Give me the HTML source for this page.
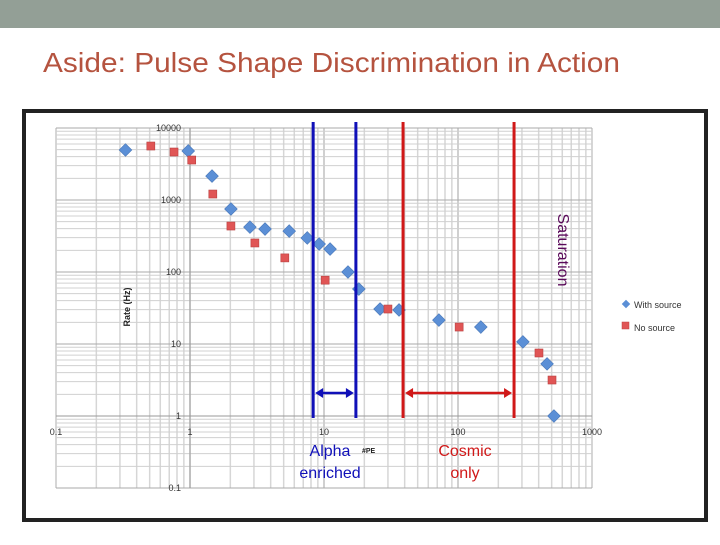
<!DOCTYPE html>
<html><head><meta charset="utf-8"><style>
body{margin:0;width:720px;height:540px;background:#fff;overflow:hidden;font-family:"Liberation Sans",sans-serif;}
</style></head><body>
<svg width="720" height="540" xmlns="http://www.w3.org/2000/svg">
<rect x="0" y="0" width="720" height="28" fill="#939f96"/>
<text x="43" y="72" font-size="28" fill="#b5533f" textLength="577" lengthAdjust="spacingAndGlyphs" font-family="Liberation Sans, sans-serif">Aside: Pulse Shape Discrimination in Action</text>
<rect x="24" y="111" width="682" height="409" fill="#fff" stroke="#222" stroke-width="4"/>
<g id="grid"></g>
<g id="axes"></g>
<g id="marks"></g>
<g id="ann"></g>
<text x="130" y="307" font-size="9" font-weight="bold" fill="#222" text-anchor="middle" transform="rotate(-90 130 307)">Rate (Hz)</text>
<text x="362" y="453" font-size="7" font-weight="bold" fill="#222">#PE</text>
<g>
<g><rect x="623" y="301" width="6" height="6" fill="#5b8fd6" transform="rotate(45 626 304)"/><text x="634" y="308" font-size="9" fill="#333">With source</text></g>
<g><rect x="622" y="322" width="7" height="7" fill="#e05555" stroke="#c04040" stroke-width="0.5"/><text x="634" y="331" font-size="9" fill="#333">No source</text></g>
</g>
</svg>
<script>
const NS='http://www.w3.org/2000/svg';
const withX=[0.33,0.97,1.46,2.02,2.8,3.63,5.5,7.5,9.2,11.1,15.1,18.2,26.2,36.3,72,148,305,462,520];
const withY=[4950,4800,2150,750,420,395,370,297,245,208,100,58,30.6,29.7,21.5,17.2,10.7,5.3,1.0];
const noX=[0.51,0.76,1.03,1.48,2.02,3.05,5.1,10.2,30,102,402,503];
const noY=[5620,4640,3590,1210,435,253,157,77,30.6,17.2,7.5,3.16];
const xTicks=[0.1,1,10,100,1000];
const xTickLabels=['0.1','1','10','100','1000'];
const yTicks=[10000,1000,100,10,1,0.1];
const yTickLabels=['10000','1000','100','10','1','0.1'];
const alphaRange=[8.3,17.3];
const cosmicRange=[38.9,262];
function X(v){return 190+134*Math.log10(v);}
function Y(v){return 416-72*Math.log10(v);}
function mk(t,a,p){const e=document.createElementNS(NS,t);for(const k in a)e.setAttribute(k,a[k]);p.appendChild(e);return e;}
const grid=document.getElementById('grid'),axes=document.getElementById('axes'),marks=document.getElementById('marks'),ann=document.getElementById('ann');
for(let d=-1;d<3;d++)for(let m=1;m<=10;m++){const v=m*Math.pow(10,d);const x=X(v);
 const l=mk('line',{x1:x,y1:Y(10000),x2:x,y2:Y(0.1),stroke:m==1||m==10?'#bbb':'#d6d6d6','stroke-width':m==1||m==10?1.2:1.5},grid);
 
 }
for(let d=-1;d<4;d++)for(let m=1;m<=10;m++){const v=m*Math.pow(10,d);const y=Y(v);
 const l=mk('line',{x1:X(0.1),y1:y,x2:X(1000),y2:y,stroke:m==1||m==10?'#aaa':'#d0d0d0','stroke-width':1},grid);
 
 }
const ya=mk('line',{x1:X(1),y1:Y(10000),x2:X(1),y2:Y(0.1),stroke:'#999','stroke-width':1},axes);


const xa=mk('line',{x1:X(0.1),y1:Y(1),x2:X(1000),y2:Y(1),stroke:'#999','stroke-width':1},axes);


xTicks.forEach((v,i)=>{const t=mk('text',{x:X(v),y:435,'font-size':9,fill:'#333','text-anchor':'middle'},axes);t.textContent=xTickLabels[i];
 
 });
yTicks.forEach((v,i)=>{const t=mk('text',{x:181,y:Y(v)+3,'font-size':9,fill:'#333','text-anchor':'end'},axes);t.textContent=yTickLabels[i];
 
 });
withX.forEach((v,i)=>{const x=X(v),y=Y(withY[i]);const p=mk('rect',{x:x-4.5,y:y-4.5,width:9,height:9,fill:'#5b8fd6',stroke:'#4a78b8','stroke-width':0.6,transform:`rotate(45 ${x} ${y})`},marks);
 
 });
noX.forEach((v,i)=>{const x=X(v),y=Y(noY[i]);const p=mk('rect',{x:x-4,y:y-4,width:8,height:8,fill:'#e05555',stroke:'#b94040','stroke-width':0.6},marks);
 
 });
function band(r,col,name){
 r.forEach(v=>{const l=mk('line',{x1:X(v),y1:122,x2:X(v),y2:418,stroke:col,'stroke-width':3},ann);
  
  });
 const a=X(r[0])+2,b=X(r[1])-2,y=393;
 const l=mk('line',{x1:a+6,y1:y,x2:b-6,y2:y,stroke:col,'stroke-width':2.5},ann);
 
 
 const h1=mk('polygon',{points:`${a},${y} ${a+8},${y-5} ${a+8},${y+5}`,fill:col},ann);
 
 
 const h2=mk('polygon',{points:`${b},${y} ${b-8},${y-5} ${b-8},${y+5}`,fill:col},ann);
 
 
}
band(alphaRange,'#1010b8','alpha');
band(cosmicRange,'#d01818','cosmic');
function txt(s,x,y,col,name,extra){const t=mk('text',Object.assign({x:x,y:y,'font-size':16,fill:col,'text-anchor':'middle'},extra||{}),ann);t.textContent=s;
 
 }
txt('Alpha',330,456,'#1010b8','alpha-label');
txt('enriched',330,478,'#1010b8','alpha-label-2');
txt('Cosmic',465,456,'#d01818','cosmic-label');
txt('only',465,478,'#d01818','cosmic-label-2');
txt('Saturation',558,250,'#5a0a5a','saturation-label',{transform:'rotate(90 558 250)'});
</script>
</body></html>
